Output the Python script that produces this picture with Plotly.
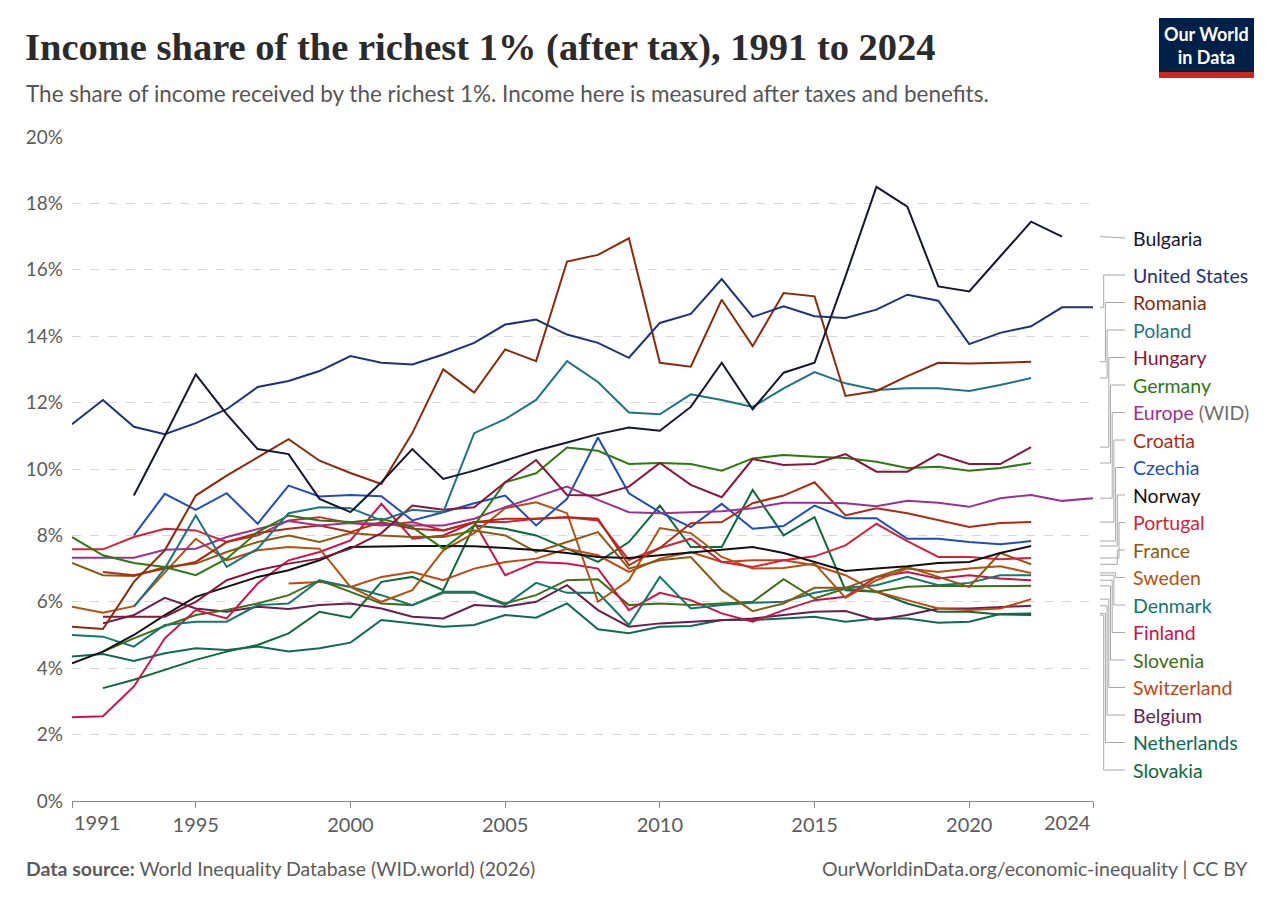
import plotly.graph_objects as go

# income share of the top 1% (after tax), %
bulgaria_start = 1993
bulgaria = [9.2, 11.0, 12.85, 11.65, 10.6, 10.45, 9.1, 8.7, 9.6, 10.6, 9.7, 9.95, 10.25,
            10.55, 10.8, 11.05, 11.25, 11.15, 11.87, 13.2, 11.8, 12.9, 13.2, 15.8, 18.5,
            17.9, 15.5, 15.35, 16.4, 17.45, 17.0]
united_states_start = 1991
united_states = [11.35, 12.08, 11.27, 11.05, 11.38, 11.8, 12.47, 12.65, 12.95, 13.4, 13.2,
                 13.15, 13.45, 13.8, 14.35, 14.5, 14.05, 13.8, 13.35, 14.4, 14.67, 15.72,
                 14.58, 14.9, 14.6, 14.55, 14.8, 15.25, 15.07, 13.76, 14.1, 14.3, 14.87, 14.87]
romania_start = 1991
romania = [5.25, 5.18, 6.6, 7.55, 9.2, 9.8, 10.35, 10.9, 10.25, 9.88, 9.55, 11.08, 13.0, 12.3,
           13.6, 13.25, 16.25, 16.45, 16.95, 13.2, 13.08, 15.1, 13.7, 15.3, 15.2, 12.2, 12.35,
           12.8, 13.2, 13.18, 13.2, 13.23]
poland_start = 1993
poland = [5.85, 7.0, 8.6, 7.05, 7.6, 8.67, 8.85, 8.82, 8.45, 8.77, 8.7, 11.08, 11.5, 12.08,
          13.25, 12.62, 11.7, 11.65, 12.25, 12.08, 11.87, 12.43, 12.92, 12.58, 12.38, 12.43,
          12.43, 12.35, 12.53, 12.74]
hungary_start = 1992
hungary = [5.55, 5.55, 5.55, 6.0, 6.65, 6.95, 7.15, 7.3, 7.6, 8.07, 8.9, 8.77, 8.85, 9.6,
           10.27, 9.22, 9.2, 9.47, 10.18, 9.52, 9.15, 10.3, 10.12, 10.15, 10.45, 9.92, 9.92,
           10.45, 10.15, 10.15, 10.66]
germany_start = 1991
germany = [7.95, 7.4, 7.17, 7.05, 6.8, 7.3, 8.1, 8.6, 8.45, 8.4, 8.5, 8.25, 7.6, 8.3, 9.6,
           9.87, 10.65, 10.55, 10.15, 10.18, 10.15, 9.95, 10.32, 10.42, 10.37, 10.33, 10.22,
           10.03, 10.07, 9.95, 10.03, 10.18]
europe_start = 1991
europe = [7.33, 7.32, 7.33, 7.57, 7.6, 7.95, 8.2, 8.43, 8.3, 8.37, 8.35, 8.3, 8.3, 8.5, 8.85,
          9.17, 9.47, 9.07, 8.7, 8.67, 8.7, 8.73, 8.82, 8.98, 8.98, 8.97, 8.88, 9.04, 8.98,
          8.86, 9.12, 9.22, 9.04, 9.12]
croatia_start = 1992
croatia = [6.9, 6.8, 7.0, 7.2, 7.8, 8.07, 8.2, 8.3, 8.1, 8.4, 8.2, 8.15, 8.4, 8.5, 8.5, 8.55,
           8.5, 7.1, 7.62, 8.37, 8.4, 8.97, 9.2, 9.6, 8.6, 8.82, 8.67, 8.47, 8.25, 8.37, 8.4]
czechia_start = 1993
czechia = [8.0, 9.25, 8.77, 9.27, 8.35, 9.5, 9.17, 9.22, 9.18, 8.45, 8.7, 8.97, 9.2, 8.3, 9.1,
           10.95, 9.27, 8.7, 8.25, 8.95, 8.2, 8.28, 8.9, 8.52, 8.52, 7.9, 7.9, 7.8, 7.73, 7.83]
norway_start = 1991
norway = [4.15, 4.5, 5.0, 5.6, 6.15, 6.45, 6.75, 6.95, 7.25, 7.65, 7.67, 7.68, 7.68, 7.67, 7.62,
          7.56, 7.47, 7.35, 7.32, 7.4, 7.48, 7.56, 7.65, 7.47, 7.2, 6.93, 7.0, 7.07, 7.17, 7.2,
          7.47, 7.68]
portugal_start = 1991
portugal = [7.58, 7.58, 7.95, 8.2, 8.15, 7.8, 8.0, 8.45, 8.55, 8.37, 8.3, 8.4, 8.15, 8.4, 8.4,
            8.5, 8.55, 8.45, 7.26, 7.62, 7.9, 7.2, 7.05, 7.25, 7.37, 7.7, 8.35, 7.83, 7.35,
            7.35, 7.28, 7.32]
france_start = 1991
france = [7.17, 6.8, 6.78, 7.05, 7.15, 7.5, 7.8, 8.0, 7.8, 8.07, 8.0, 7.95, 7.95, 8.15, 8.0,
          7.5, 7.8, 8.1, 7.0, 7.25, 7.35, 6.35, 5.72, 5.95, 6.42, 6.42, 6.75, 7.05, 6.75, 6.45,
          7.47, 7.13]
sweden_start = 1991
sweden = [5.85, 5.67, 5.87, 6.9, 7.9, 7.25, 7.55, 7.65, 7.6, 6.45, 6.0, 6.35, 7.55, 8.07, 8.82,
          9.0, 8.67, 6.0, 6.65, 8.22, 8.07, 7.35, 7.0, 7.02, 7.15, 6.12, 6.65, 7.0, 6.9, 7.0,
          7.07, 6.87]
denmark_start = 1991
denmark = [5.0, 4.95, 4.65, 5.3, 5.4, 5.4, 5.9, 5.95, 6.65, 6.45, 6.2, 5.9, 6.3, 6.3, 5.9,
           6.57, 6.27, 6.27, 5.3, 6.75, 5.8, 5.9, 5.97, 6.0, 6.27, 6.42, 6.5, 6.75, 6.5, 6.57,
           6.8, 6.8]
finland_start = 1991
finland = [2.52, 2.55, 3.45, 4.9, 5.75, 5.5, 6.55, 7.25, 7.5, 7.85, 8.95, 7.9, 8.0, 8.4, 6.8,
           7.2, 7.15, 7.0, 5.75, 6.27, 6.05, 5.65, 5.4, 5.75, 6.05, 6.15, 6.75, 6.9, 6.7, 6.8,
           6.7, 6.65]
slovenia_start = 1992
slovenia = [4.5, 4.9, 5.27, 5.6, 5.75, 5.95, 6.2, 6.65, 6.3, 5.95, 5.9, 6.27, 6.27, 5.95, 6.2,
            6.65, 6.68, 5.9, 5.95, 5.9, 5.95, 6.0, 6.68, 6.1, 6.4, 6.3, 6.45, 6.48, 6.47, 6.47,
            6.48]
switzerland_start = 1998
switzerland = [6.55, 6.6, 6.45, 6.75, 6.9, 6.65, 7.0, 7.2, 7.3, 7.6, 7.4, 6.9, 7.3, 7.5, 7.2,
               7.25, 7.25, 7.1, 6.8, 6.3, 6.05, 5.8, 5.75, 5.8, 6.08]
belgium_start = 1992
belgium = [5.35, 5.6, 6.12, 5.8, 5.7, 5.85, 5.78, 5.9, 5.95, 5.8, 5.55, 5.5, 5.9, 5.85, 6.0,
           6.5, 5.75, 5.25, 5.35, 5.4, 5.45, 5.5, 5.6, 5.7, 5.72, 5.45, 5.6, 5.8, 5.8, 5.85, 5.88]
netherlands_start = 1991
netherlands = [4.35, 4.43, 4.22, 4.45, 4.6, 4.55, 4.65, 4.5, 4.6, 4.77, 5.45, 5.35, 5.25, 5.3,
               5.6, 5.52, 5.95, 5.17, 5.05, 5.25, 5.27, 5.45, 5.45, 5.5, 5.55, 5.4, 5.5, 5.5,
               5.37, 5.4, 5.63, 5.65]
slovakia_start = 1992
slovakia = [3.4, 3.65, 3.95, 4.25, 4.5, 4.7, 5.05, 5.7, 5.52, 6.6, 6.75, 6.35, 8.3, 8.2, 8.0,
            7.6, 7.2, 7.8, 8.9, 7.65, 7.65, 9.37, 8.0, 8.55, 6.35, 6.3, 5.95, 5.7, 5.7, 5.62, 5.6]

x_ticks = [1991, 1995, 2000, 2005, 2010, 2015, 2020, 2024]

# legend order (top to bottom on the right)
series = [
    ('Bulgaria', bulgaria_start, bulgaria, '#14172f'),
    ('United States', united_states_start, united_states, '#1c3278'),
    ('Romania', romania_start, romania, '#8b2a0a'),
    ('Poland', poland_start, poland, '#1d7384'),
    ('Hungary', hungary_start, hungary, '#8a1538'),
    ('Germany', germany_start, germany, '#2a7a0e'),
    ('Europe', europe_start, europe, '#9b2f93'),
    ('Croatia', croatia_start, croatia, '#b02a12'),
    ('Czechia', czechia_start, czechia, '#1f4cbd'),
    ('Norway', norway_start, norway, '#111111'),
    ('Portugal', portugal_start, portugal, '#d6213a'),
    ('France', france_start, france, '#8a5a10'),
    ('Sweden', sweden_start, sweden, '#b35210'),
    ('Denmark', denmark_start, denmark, '#11786a'),
    ('Finland', finland_start, finland, '#cf1149'),
    ('Slovenia', slovenia_start, slovenia, '#3d6e1c'),
    ('Switzerland', switzerland_start, switzerland, '#c24612'),
    ('Belgium', belgium_start, belgium, '#6b1d4e'),
    ('Netherlands', netherlands_start, netherlands, '#0e6a55'),
    ('Slovakia', slovakia_start, slovakia, '#0b6a3a'),
]

FONT = 'Lato'
GREY = '#5b5b5b'

# pixel geometry of the plot area
L, R, T, B = 72, 1093, 137, 801
W, H = 1280, 904


def px_x(p):
    return (p - L) / (R - L)


def px_y(p):
    return (B - p) / (B - T)


fig = go.Figure()
for name, start, vals, col in series[::-1]:
    fig.add_trace(go.Scatter(
        x=list(range(start, start + len(vals))), y=vals, mode='lines', name=name,
        line=dict(color=col, width=2), hovertemplate='%{x}: %{y:.1f}%<extra>' + name + '</extra>'))

shapes = []
annotations = []

# right-hand labels with elbow connectors
label_px = [238] + [275 + 27.5 * i for i in range(19)]
for i, (name, start, vals, col) in enumerate(series):
    ly = label_px[i]
    dy = B - vals[-1] * (B - T) / 20
    if i == 0:
        path = f'M {px_x(1100)} {px_y(dy)} L {px_x(1125)} {px_y(ly)}'
    else:
        xv = 1102 + 17 * (1 - abs(i - 10) / 10)
        path = (f'M {px_x(1100)} {px_y(dy)} L {px_x(xv)} {px_y(dy)} '
                f'L {px_x(xv)} {px_y(ly)} L {px_x(1125)} {px_y(ly)}')
    shapes.append(dict(type='path', xref='paper', yref='paper', path=path,
                       line=dict(color='#a8a8a8', width=1)))
    text = name
    if name == 'Europe':
        text = f"<span style='color:{col}'>Europe</span> <span style='color:#6e6e6e'>(WID)</span>"
    annotations.append(dict(xref='paper', yref='paper', x=px_x(1131), y=px_y(ly), text=text,
                            xanchor='left', yanchor='middle', showarrow=False,
                            font=dict(family=FONT, size=19.5, color=col)))

# first and last year labels are edge-aligned
annotations.append(dict(xref='x', yref='paper', x=1991, y=px_y(822), text='1991', xanchor='left',
                        yanchor='middle', showarrow=False, font=dict(family=FONT, size=20, color=GREY)))
annotations.append(dict(xref='x', yref='paper', x=2024, y=px_y(822), text='2024', xanchor='right',
                        yanchor='middle', showarrow=False, font=dict(family=FONT, size=20, color=GREY)))

# title, subtitle, footer
annotations.append(dict(xref='paper', yref='paper', x=px_x(23), y=px_y(47),
                        text='<b>Income share of the richest 1% (after tax), 1991 to 2024</b>',
                        xanchor='left', yanchor='middle', showarrow=False,
                        font=dict(family='Liberation Serif', size=38.5, color='#2b2b2b')))
annotations.append(dict(xref='paper', yref='paper', x=px_x(24), y=px_y(93),
                        text='The share of income received by the richest 1%. Income here is measured after taxes and benefits.',
                        xanchor='left', yanchor='middle', showarrow=False,
                        font=dict(family=FONT, size=22.5, color='#555555')))
annotations.append(dict(xref='paper', yref='paper', x=px_x(24), y=px_y(868),
                        text='<b>Data source:</b> World Inequality Database (WID.world) (2026)',
                        xanchor='left', yanchor='middle', showarrow=False,
                        font=dict(family=FONT, size=19.5, color=GREY)))
annotations.append(dict(xref='paper', yref='paper', x=px_x(1250), y=px_y(868),
                        text='OurWorldinData.org/economic-inequality | CC BY',
                        xanchor='right', yanchor='middle', showarrow=False,
                        font=dict(family=FONT, size=19.5, color=GREY)))

# logo
shapes.append(dict(type='rect', xref='paper', yref='paper', x0=px_x(1159), x1=px_x(1254),
                   y0=px_y(72), y1=px_y(18), fillcolor='#002147', line=dict(width=0)))
shapes.append(dict(type='rect', xref='paper', yref='paper', x0=px_x(1159), x1=px_x(1254),
                   y0=px_y(78), y1=px_y(72), fillcolor='#ce261e', line=dict(width=0)))
annotations.append(dict(xref='paper', yref='paper', x=px_x(1206.5), y=px_y(45),
                        text='<b>Our World<br>in Data</b>', xanchor='center', yanchor='middle',
                        showarrow=False, font=dict(family=FONT, size=18, color='white')))

fig.update_layout(
    width=W, height=H,
    margin=dict(l=L, r=W - R, t=T, b=H - B, pad=0),
    paper_bgcolor='white', plot_bgcolor='white',
    showlegend=False,
    shapes=shapes,
    annotations=annotations,
    font=dict(family=FONT, size=19, color=GREY),
    xaxis=dict(range=[1991, 2024], tickvals=x_ticks,
               ticktext=[''] + [str(t) for t in x_ticks[1:-1]] + [''],
               showgrid=False, zeroline=False, showline=True, linecolor='#8a8a8a',
               ticks='outside', ticklen=6, tickcolor='#8a8a8a',
               tickfont=dict(family=FONT, size=20, color=GREY)),
    yaxis=dict(range=[0, 20], dtick=2, ticksuffix='%', showgrid=True, gridcolor='#d6d6d6',
               griddash='dash', gridwidth=1, zeroline=False, showline=False, ticks='',
               ticklabelstandoff=8,
               tickfont=dict(family=FONT, size=19, color=GREY)),
)

fig.write_html('out.html', config={'displayModeBar': False},
               post_script="document.body.style.margin='0';document.body.style.overflow='hidden';")
